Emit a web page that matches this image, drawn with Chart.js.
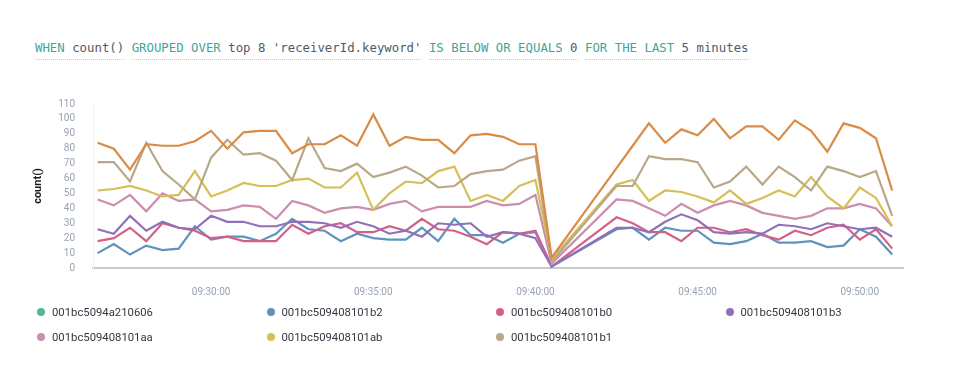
<!DOCTYPE html>
<html>
<head>
<meta charset="utf-8">
<script src="https://cdn.jsdelivr.net/npm/chart.js@4.4.1/dist/chart.umd.min.js"></script>
<style>
  html, body { margin: 0; padding: 0; background: #fff; }
  body { width: 960px; height: 379px; position: relative; overflow: hidden; }
  #expr { position: absolute; left: 35px; top: 41px; font-family: "DejaVu Sans Mono", monospace; font-size: 12.35px; color: #535966; white-space: pre; }
  #expr .grp { border-bottom: 1px dotted #c5c9d0; padding-bottom: 4px; }
  #expr .kw { color: #3ea69a; }
  #box { position: absolute; left: 0; top: 80px; width: 920px; height: 225px; }
  #legend { position: absolute; left: 37px; top: 304px; display: grid; grid-template-columns: repeat(4, 229.5px); row-gap: 9px; font-family: Roboto, sans-serif; font-size: 11.3px; color: #343741; }
  #legend .it { display: flex; align-items: center; height: 16px; }
  #legend .dot { width: 8px; height: 8px; border-radius: 50%; margin-right: 7px; }
</style>
</head>
<body>
<div id="expr"><span class="grp"><span class="kw">WHEN</span> count()</span> <span class="grp"><span class="kw">GROUPED OVER</span> top 8 'receiverId.keyword'</span> <span class="grp"><span class="kw">IS BELOW OR EQUALS</span> 0</span> <span class="grp"><span class="kw">FOR THE LAST</span> 5 minutes</span></div>
<div id="box"><canvas id="chart"></canvas></div>
<div id="legend"></div>
<script>
// sample times (30s buckets, gap after 09:40:30)
const times = ['09:26:30','09:27:00','09:27:30','09:28:00','09:28:30','09:29:00','09:29:30','09:30:00','09:30:30','09:31:00',
  '09:31:30','09:32:00','09:32:30','09:33:00','09:33:30','09:34:00','09:34:30','09:35:00','09:35:30','09:36:00',
  '09:36:30','09:37:00','09:37:30','09:38:00','09:38:30','09:39:00','09:39:30','09:40:00','09:40:30',
  '09:42:30','09:43:00','09:43:30','09:44:00','09:44:30','09:45:00','09:45:30','09:46:00','09:46:30','09:47:00',
  '09:47:30','09:48:00','09:48:30','09:49:00','09:49:30','09:50:00','09:50:30','09:51:00'];
const tickLabels = ['09:30:00','09:35:00','09:40:00','09:45:00','09:50:00'];
const yTicks = [0,10,20,30,40,50,60,70,80,90,100,110];

const s_a210606 = [];
const s_b2 = [10,16,9,15,12,13,28,19,21,21,18,23,33,26,25,18,23,20,19,19,27,18,33,22,22,17,23,24,1,
  26,27,19,27,25,25,17,16,18,23,17,17,18,14,15,26,21,9];
const s_b0 = [18,20,27,18,30,27,25,20,21,18,18,18,29,23,28,30,24,24,28,25,33,26,25,21,16,24,23,25,1,
  34,30,24,24,18,27,27,24,26,22,19,25,22,27,29,19,26,13];
const s_b3 = [26,23,35,25,31,27,26,35,31,31,28,28,31,31,30,27,31,28,23,25,21,30,29,30,21,24,23,20,1,
  27,27,24,31,36,32,24,23,24,23,29,28,26,30,28,26,27,21];
const s_aa = [46,42,49,38,50,45,46,38,39,42,41,33,45,42,37,40,41,39,43,45,38,41,41,41,45,42,43,49,3,
  46,45,40,35,43,37,42,45,42,37,35,33,35,40,40,43,40,28];
const s_ab = [52,53,55,52,48,49,65,48,52,57,55,55,59,60,54,54,64,39,50,58,57,65,68,45,49,45,55,59,6,
  56,59,45,52,51,48,44,52,43,47,52,48,61,48,40,54,47,28];
const s_b1 = [71,71,58,84,65,56,46,74,86,76,77,72,59,87,67,65,70,61,64,68,62,54,55,63,65,66,72,75,4,
  55,55,75,73,73,71,54,58,68,56,68,61,52,68,65,61,65,35];
const s_top8 = [84,80,66,83,82,82,85,92,80,91,92,92,77,83,83,89,82,103,82,88,86,86,77,89,90,88,83,83,7,
  67,82,97,84,93,89,100,87,95,95,86,99,92,78,97,94,87,52];

const series = [
  { name: '001bc5094a210606', color: '#54B399', values: s_a210606 },
  { name: '001bc509408101b2', color: '#6092C0', values: s_b2 },
  { name: '001bc509408101b0', color: '#D36086', values: s_b0 },
  { name: '001bc509408101b3', color: '#9170B8', values: s_b3 },
  { name: '001bc509408101aa', color: '#CA8EAE', values: s_aa },
  { name: '001bc509408101ab', color: '#D6BF57', values: s_ab },
  { name: '001bc509408101b1', color: '#B9A888', values: s_b1 },
  { name: '', color: '#DA8B45', values: s_top8 }
];

const toSec = t => { const p = t.split(':').map(Number); return p[0]*3600 + p[1]*60 + p[2]; };
const fmt = v => [Math.floor(v/3600), Math.floor(v/60)%60, v%60].map(n => String(n).padStart(2,'0')).join(':');

const datasets = series.map(s => ({
  label: s.name,
  data: s.values.map((v, i) => ({ x: toSec(times[i]), y: v })),
  borderColor: s.color,
  backgroundColor: s.color,
  borderWidth: 2.2,
  pointRadius: 0,
  tension: 0,
  fill: false
})).reverse();

const tickFont = { family: 'Roboto, sans-serif', size: 10 };

const ctx = document.querySelector('#chart').getContext('2d');
const chart = new Chart(ctx, {
  type: 'line',
  data: { datasets: datasets },
  options: {
    responsive: true,
    maintainAspectRatio: false,
    animation: false,
    layout: { padding: { top: 10, right: 17, left: 0, bottom: 0 } },
    plugins: { legend: { display: false }, tooltip: { enabled: false } },
    scales: {
      x: {
        type: 'linear',
        min: toSec('09:26:21') + 0.5,
        max: toSec('09:51:20'),
        grid: { display: false, drawTicks: false },
        border: { display: true, color: '#c8cacf', width: 2 },
        afterBuildTicks: sc => { sc.ticks = tickLabels.map(t => ({ value: toSec(t) })); },
        afterFit: sc => { sc.height = 37; },
        ticks: {
          padding: 18,
          maxRotation: 0,
          autoSkip: false,
          color: '#98a2b3',
          font: tickFont,
          callback: v => fmt(v)
        }
      },
      y: {
        min: 0,
        max: 110,
        grid: { display: false, drawTicks: false },
        border: { display: true, color: '#eef0f3', width: 1 },
        afterBuildTicks: sc => { sc.ticks = yTicks.map(v => ({ value: v })); },
        afterFit: sc => { sc.width = 93; },
        ticks: {
          padding: 18,
          autoSkip: false,
          color: '#98a2b3',
          font: tickFont
        },
        title: {
          display: true,
          text: 'count()',
          color: '#1a1c21',
          padding: { top: 32, bottom: 0 },
          font: { family: 'Roboto, sans-serif', size: 11, weight: 'bold' }
        }
      }
    }
  }
});

// legend like the original: 4 columns, dot + name
const legend = document.querySelector('#legend');
series.filter(s => s.name).forEach(s => {
  const it = document.createElement('div');
  it.className = 'it';
  it.innerHTML = '<span class="dot" style="background:' + s.color + '"></span><span>' + s.name + '</span>';
  legend.appendChild(it);
});
</script>
</body>
</html>
